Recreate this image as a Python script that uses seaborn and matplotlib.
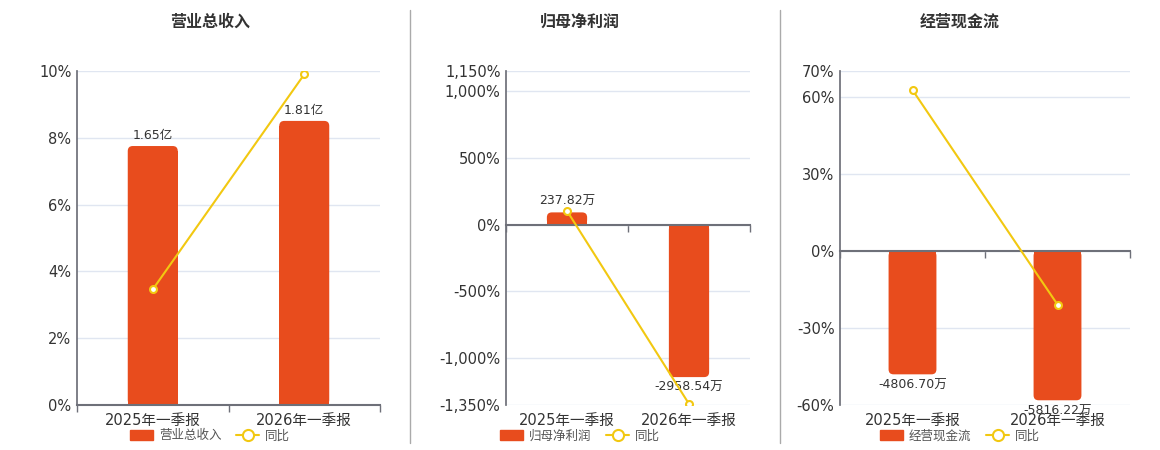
import numpy as np
import seaborn as sns
import matplotlib.pyplot as plt
from matplotlib.lines import Line2D
from matplotlib.patches import Patch, FancyBboxPatch
from matplotlib.ticker import FuncFormatter
import matplotlib.transforms as mtransforms

quarters = ["2025年一季报", "2026年一季报"]

titles = ["营业总收入", "归母净利润", "经营现金流"]

revenue = [1.65, 1.81]            # 亿
revenue_labels = ["1.65亿", "1.81亿"]
revenue_yoy = [3.46, 9.90]         # %

profit = [237.82, -2958.54]        # 万
profit_labels = ["237.82万", "-2958.54万"]
profit_yoy = [103.0, -1342.0]

cashflow = [-4806.70, -5816.22]    # 万
cashflow_labels = ["-4806.70万", "-5816.22万"]
cashflow_yoy = [62.6, -20.9]

pct_ticks = [
    [0, 2, 4, 6, 8, 10],
    [-1350, -1000, -500, 0, 500, 1000, 1150],
    [-60, -30, 0, 30, 60, 70],
]
# bar axis units per percent point (hidden secondary axis)
bar_scale = [0.2128, 3500 / 1350, 100.0]

BAR = "#E84C1D"
LINE = "#F2C811"
AXIS = "#6E7079"
GRID = "#E0E6F1"
TXT = "#333333"

sns.set_theme(style="white")
plt.rcParams["font.family"] = ["DejaVu Sans", "Noto Sans CJK SC"]

fig = plt.figure(figsize=(11.6, 4.5), dpi=100)
W, H = 1160, 450

# plot areas in pixels: left, right, top, bottom
boxes = [(77, 380, 71, 405), (506, 750, 71, 405), (840, 1130, 71, 405)]
centers = [210, 580, 960]

series = [
    (revenue, revenue_labels, revenue_yoy),
    (profit, profit_labels, profit_yoy),
    (cashflow, cashflow_labels, cashflow_yoy),
]


def round_bars(ax, radius_px=5):
    # round the outer end of each bar, keep the base square
    (x0, x1), (y0, y1) = ax.get_xlim(), ax.get_ylim()
    bb = ax.get_window_extent()
    rx = radius_px * (x1 - x0) / bb.width
    ry = radius_px * (y1 - y0) / bb.height
    for p in list(ax.containers[0]):
        h = p.get_height()
        ybase = min(p.get_y(), p.get_y() + h)
        fb = FancyBboxPatch((p.get_x(), ybase), p.get_width(), abs(h),
                            boxstyle=f"round,pad=0,rounding_size={rx}",
                            mutation_aspect=ry / rx, facecolor=BAR,
                            edgecolor="none", zorder=2)
        ax.add_patch(fb)
        if h >= 0:
            p.set_height(max(h - ry, 0))
        else:
            p.set_height(min(h + ry, 0))
        p.set_edgecolor("none")


for i, (vals, labels, yoy) in enumerate(series):
    l, r, t, b = boxes[i]
    ax = fig.add_axes([l / W, (H - b) / H, (r - l) / W, (b - t) / H])
    ticks = pct_ticks[i]
    k = bar_scale[i]
    lo, hi = ticks[0], ticks[-1]

    # bars on hidden axis
    sns.barplot(x=quarters, y=vals, ax=ax, color=BAR, width=0.33,
                saturation=1, zorder=2)
    ax.set_ylim(lo * k, hi * k)
    ax.set_xlim(-0.5, len(quarters) - 0.5)
    ax.set_yticks([v * k for v in ticks])
    ax.grid(axis="y", color=GRID, lw=1, zorder=0)
    ax.grid(axis="x", visible=False)
    ax.tick_params(axis="y", which="both", left=False, right=False,
                   length=0, labelleft=False)
    ax.set_xlabel("")
    ax.set_ylabel("")
    for s in ["top", "right"]:
        ax.spines[s].set_visible(False)
    ax.spines["left"].set_color(AXIS)
    ax.spines["bottom"].set_color(AXIS)
    ax.spines["bottom"].set_linewidth(1.5)
    ax.spines["bottom"].set_position(("data", 0))
    ax.set_xticks(np.arange(len(quarters)))
    ax.set_xticklabels([])
    ax.tick_params(axis="x", which="major", length=0)
    ax.set_xticks(np.arange(len(quarters) + 1) - 0.5, minor=True)
    ax.tick_params(axis="x", which="minor", length=5, color=AXIS, width=1,
                   bottom=True, direction="out")
    ax.bar_label(ax.containers[0], labels=labels, padding=3, fontsize=9,
                 color=TXT)
    round_bars(ax)

    trans = mtransforms.blended_transform_factory(ax.transData, ax.transAxes)
    for j, q in enumerate(quarters):
        ax.text(j, -0.045, q, transform=trans, ha="center", va="center",
                fontsize=10.5, color=TXT)

    # yoy line on percent axis
    ax2 = ax.twinx()
    sns.lineplot(x=np.arange(len(quarters)), y=yoy, ax=ax2, color=LINE,
                 lw=1.5, marker="o", markersize=5, markerfacecolor="white",
                 markeredgecolor=LINE, markeredgewidth=1.5)
    ax2.set_ylim(lo, hi)
    ax2.set_yticks(ticks)
    ax2.yaxis.tick_left()
    ax2.yaxis.set_major_formatter(FuncFormatter(lambda v, p: f"{v:,.0f}%"))
    ax2.tick_params(axis="y", which="both", length=0, labelsize=10.5,
                    labelcolor=TXT, pad=4)
    ax2.grid(False)
    for s in ["top", "right", "bottom", "left"]:
        ax2.spines[s].set_visible(False)
    ax2.set_ylabel("")

    fig.text(centers[i] / W, 1 - 22 / H, titles[i], ha="center", va="center",
             fontsize=11.5, fontweight="heavy", color=TXT,
             family=["Noto Sans CJK SC", "DejaVu Sans"])

    handles = [
        Patch(facecolor=BAR, edgecolor=BAR),
        Line2D([0], [0], color=LINE, lw=1.5, marker="o", markersize=8,
               markerfacecolor="white", markeredgecolor=LINE,
               markeredgewidth=1.5),
    ]
    fig.legend(handles, [titles[i], "同比"], loc="center",
               bbox_to_anchor=(centers[i] / W, 14 / H), ncol=2,
               frameon=False, fontsize=9, handlelength=1.8, handleheight=0.9,
               columnspacing=1.2, handletextpad=0.5, labelcolor="#555555")

for x in [410, 780]:
    fig.add_artist(Line2D([x / W, x / W], [7 / H, 1 - 10 / H],
                          color="#AAAAAA", lw=1))

fig.savefig("out.png", dpi=100)
